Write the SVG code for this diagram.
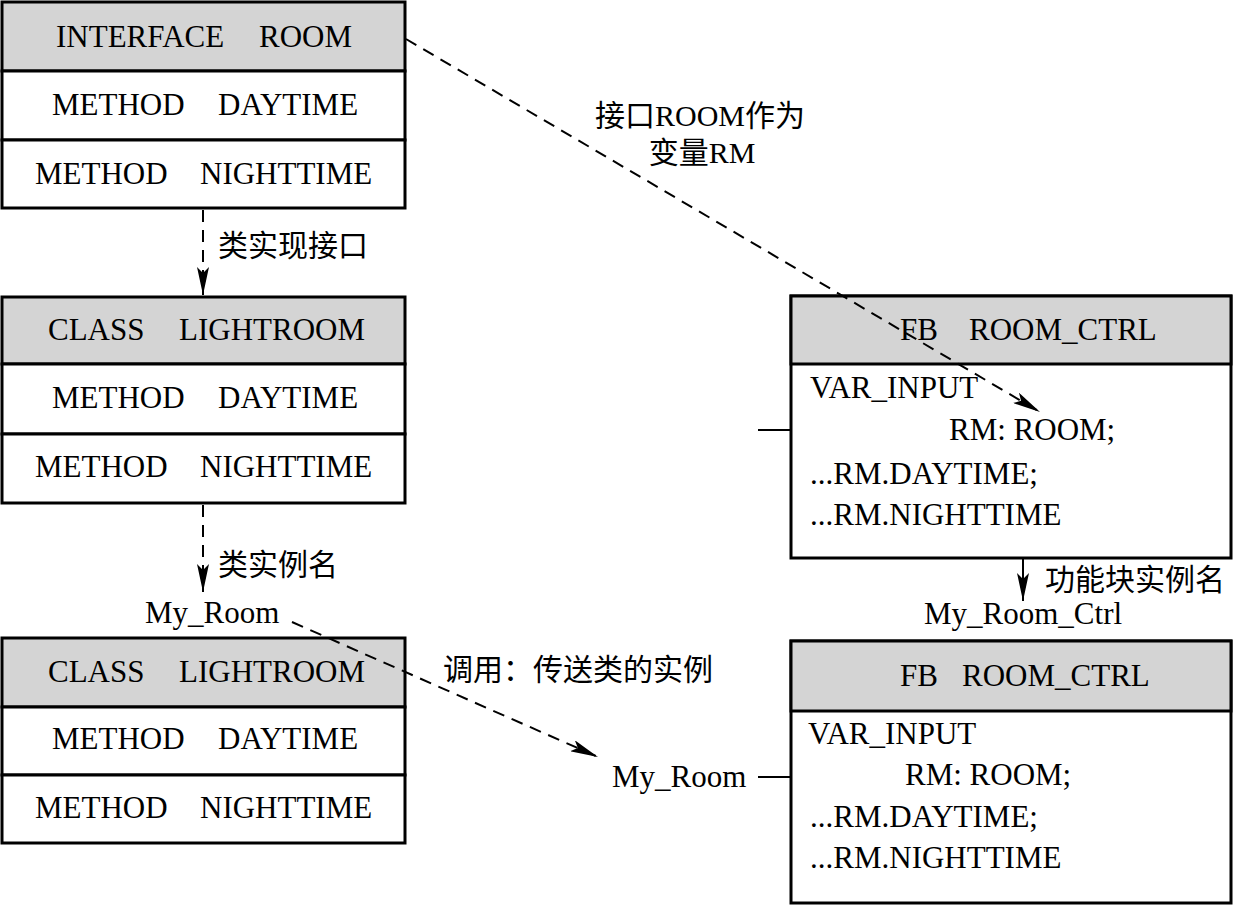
<svg xmlns="http://www.w3.org/2000/svg" width="1234" height="905" viewBox="0 0 1234 905">
<style>
.box{fill:#fff;stroke:#000;stroke-width:3}
.hdr{fill:#d4d4d4;stroke:#000;stroke-width:3}
.t{font-family:"Liberation Serif","Noto Sans CJK SC",serif;font-size:31px;fill:#000}
.c{font-family:"Liberation Serif","Noto Sans CJK SC",serif;font-size:30px;fill:#000}
.dash{fill:none;stroke:#000;stroke-width:2;stroke-dasharray:12,8}
.solid{fill:none;stroke:#000;stroke-width:2}
</style>
<defs>
<marker id="ah" markerWidth="28" markerHeight="12" refX="28" refY="6" orient="auto" markerUnits="userSpaceOnUse">
<path d="M0,0 L28,6 L0,12 L6,6 Z" fill="#000"/>
</marker>
</defs>
<rect width="1234" height="905" fill="#fff"/>

<g id="interface-room">
<rect class="hdr" x="2" y="2" width="403" height="69"/>
<rect class="box" x="2" y="71" width="403" height="69"/>
<rect class="box" x="2" y="140" width="403" height="68"/>
<text class="t" y="47"><tspan x="56">INTERFACE</tspan><tspan x="259">ROOM</tspan></text>
<text class="t" y="115"><tspan x="52">METHOD</tspan><tspan x="218">DAYTIME</tspan></text>
<text class="t" y="184"><tspan x="35">METHOD</tspan><tspan x="200">NIGHTTIME</tspan></text>
</g>

<g id="class-lightroom-1">
<rect class="hdr" x="2" y="297" width="403" height="67"/>
<rect class="box" x="2" y="364" width="403" height="70"/>
<rect class="box" x="2" y="434" width="403" height="69"/>
<text class="t" y="340"><tspan x="48">CLASS</tspan><tspan x="179">LIGHTROOM</tspan></text>
<text class="t" y="408"><tspan x="52">METHOD</tspan><tspan x="218">DAYTIME</tspan></text>
<text class="t" y="477"><tspan x="35">METHOD</tspan><tspan x="200">NIGHTTIME</tspan></text>
</g>

<g id="class-lightroom-2">
<rect class="hdr" x="2" y="638" width="403" height="69"/>
<rect class="box" x="2" y="707" width="403" height="68"/>
<rect class="box" x="2" y="775" width="403" height="68"/>
<text class="t" y="682"><tspan x="48">CLASS</tspan><tspan x="179">LIGHTROOM</tspan></text>
<text class="t" y="749"><tspan x="52">METHOD</tspan><tspan x="218">DAYTIME</tspan></text>
<text class="t" y="818"><tspan x="35">METHOD</tspan><tspan x="200">NIGHTTIME</tspan></text>
</g>

<g id="fb-room-ctrl-1">
<rect class="box" x="791" y="296" width="440" height="262"/>
<rect class="hdr" x="791" y="296" width="440" height="68"/>
<text class="t" y="340"><tspan x="900">FB</tspan><tspan x="969">ROOM_CTRL</tspan></text>
<text class="t" x="810" y="398">VAR_INPUT</text>
<text class="t" x="949" y="440">RM: ROOM;</text>
<text class="t" x="810" y="484">...RM.DAYTIME;</text>
<text class="t" x="810" y="525">...RM.NIGHTTIME</text>
</g>

<g id="fb-room-ctrl-2">
<rect class="box" x="791" y="641" width="440" height="262"/>
<rect class="hdr" x="791" y="641" width="440" height="70"/>
<text class="t" y="686"><tspan x="900">FB</tspan><tspan x="962">ROOM_CTRL</tspan></text>
<text class="t" x="808" y="744">VAR_INPUT</text>
<text class="t" x="905" y="785">RM: ROOM;</text>
<text class="t" x="810" y="827">...RM.DAYTIME;</text>
<text class="t" x="810" y="868">...RM.NIGHTTIME</text>
</g>

<g id="instance-labels">
<text class="t" x="145" y="623">My_Room</text>
<text class="t" x="924" y="624">My_Room_Ctrl</text>
<text class="t" x="612" y="787">My_Room</text>
</g>

<g id="connectors">
<line class="dash" x1="203" y1="210" x2="203" y2="295" marker-end="url(#ah)"/>
<line class="dash" x1="203" y1="505" x2="203" y2="592" marker-end="url(#ah)"/>
<line class="dash" x1="406" y1="39" x2="1040" y2="412" marker-end="url(#ah)"/>
<line class="dash" x1="292" y1="622" x2="598" y2="757" marker-end="url(#ah)"/>
<line class="solid" x1="1023" y1="559" x2="1023" y2="601" marker-end="url(#ah)"/>
<line class="solid" x1="758" y1="430" x2="791" y2="430"/>
<line class="solid" x1="758" y1="777" x2="791" y2="777"/>
<text class="c" x="218" y="256">类实现接口</text>
<text class="c" x="218" y="575">类实例名</text>
<text class="c" x="700" y="126" text-anchor="middle">接口ROOM作为</text>
<text class="c" x="702" y="163" text-anchor="middle">变量RM</text>
<text class="c" x="1045" y="590">功能块实例名</text>
<text class="c" x="443" y="680">调用：传送类的实例</text>
</g>
</svg>
